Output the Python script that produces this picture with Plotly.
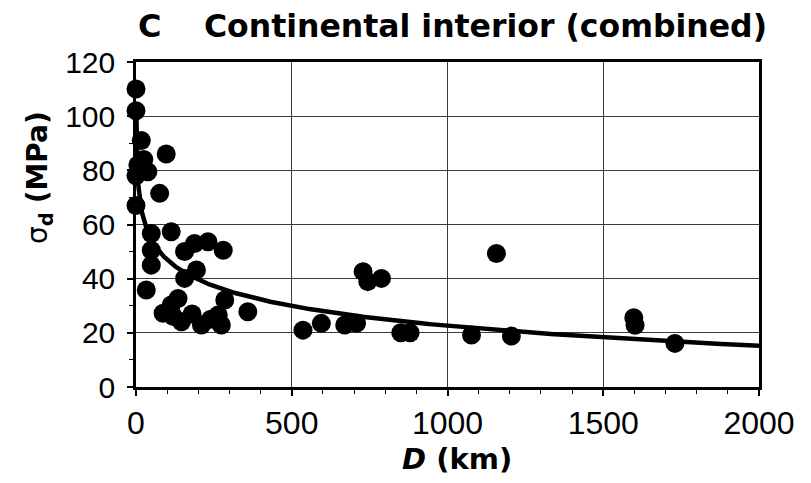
import numpy as np
import plotly.graph_objects as go

# ---- data ----
distance_km = [0, 0, 17, 97, 6, 38, 0, 25, 76, 0,
               49, 113, 49, 49, 156, 188, 231, 280, 194, 156, 33,
               87, 113, 135, 146, 120, 180, 210, 240, 264, 285, 274, 359,
               536, 595, 670, 708, 729, 744, 788, 850, 880, 1077, 1157, 1205,
               1598, 1602, 1730]
stress_mpa = [110, 102, 91, 86, 82, 79.5, 78, 84, 71.5, 67,
              56.7, 57.3, 50.5, 45, 50, 53, 53.6, 50.5, 43.2, 40.1, 35.8,
              27.2, 30.3, 32.7, 24.1, 26, 27, 22.9, 25, 26.6, 32.1, 22.9, 27.8,
              21, 23.5, 22.9, 23.5, 42.6, 38.9, 40.1, 20, 20, 19.2, 49.3, 18.8,
              25.6, 22.8, 16.1]

# logarithmic trend line: sigma = FIT_A - FIT_B * ln(D)
FIT_A = 95.8
FIT_B = 10.6
fit_d = np.linspace(0.45, 2000, 800)
fit_s = FIT_A - FIT_B * np.log(fit_d)

x_ticks = [0, 500, 1000, 1500, 2000]
y_ticks = [0, 20, 40, 60, 80, 100, 120]

# ---- layout geometry (pixels) ----
W, H = 811, 483
L, R, T, B = 136, 52, 62, 96
pw, ph = W - L - R, H - T - B

def px(xp):
    return (xp - L) / pw

def py(yp):
    return (H - B - yp) / ph

fig = go.Figure()
fig.add_trace(go.Scatter(x=distance_km, y=stress_mpa, mode="markers",
                         marker=dict(size=19, color="black", line=dict(width=0)),
                         cliponaxis=False, showlegend=False))
fig.add_trace(go.Scatter(x=fit_d, y=fit_s, mode="lines",
                         line=dict(color="black", width=4.5),
                         showlegend=False))

axis_common = dict(showline=True, linecolor="black", linewidth=2.5, mirror=True,
                   showgrid=True, gridcolor="#3a3a3a", gridwidth=1,
                   zeroline=False, ticks="outside", tickcolor="black",
                   tickwidth=1.5, ticklen=6)

fig.update_xaxes(range=[0, 2000], tickvals=x_ticks,
                 tickfont=dict(family="Liberation Sans, Arial", size=32, color="black"),
                 minor=dict(dtick=100, ticks="outside", ticklen=4, tickcolor="black",
                            tickwidth=1.2, showgrid=False),
                 **axis_common)
fig.update_yaxes(range=[0, 120], tickvals=y_ticks,
                 tickfont=dict(family="Liberation Sans, Arial", size=30, color="black"),
                 ticklabelstandoff=6,
                 minor=dict(dtick=10, ticks="outside", ticklen=4, tickcolor="black",
                            tickwidth=1.2, showgrid=False),
                 **axis_common)

bold = "DejaVu Sans"
annotations = [
    dict(text="<b>C</b>", x=px(136), y=py(26), xanchor="left", yanchor="middle",
         font=dict(family=bold, size=32, color="black")),
    dict(text="<b>Continental interior (combined)</b>", x=px(202), y=py(26),
         xanchor="left", yanchor="middle",
         font=dict(family=bold, size=31.5, color="black")),
    dict(text="<b><i>D</i> (km)</b>", x=px(457), y=py(459), xanchor="center",
         yanchor="middle", font=dict(family=bold, size=29, color="black")),
    dict(text="σ<sub><b>d</b></sub> <b>(MPa)</b>", x=px(39), y=py(178), textangle=-90,
         xanchor="center", yanchor="middle",
         font=dict(family=bold, size=28, color="black")),
]
for a in annotations:
    a.update(xref="paper", yref="paper", showarrow=False)

fig.update_layout(width=W, height=H, margin=dict(l=L, r=R, t=T, b=B),
                  paper_bgcolor="white", plot_bgcolor="white",
                  annotations=annotations, showlegend=False)

fig.write_html("out.html")
